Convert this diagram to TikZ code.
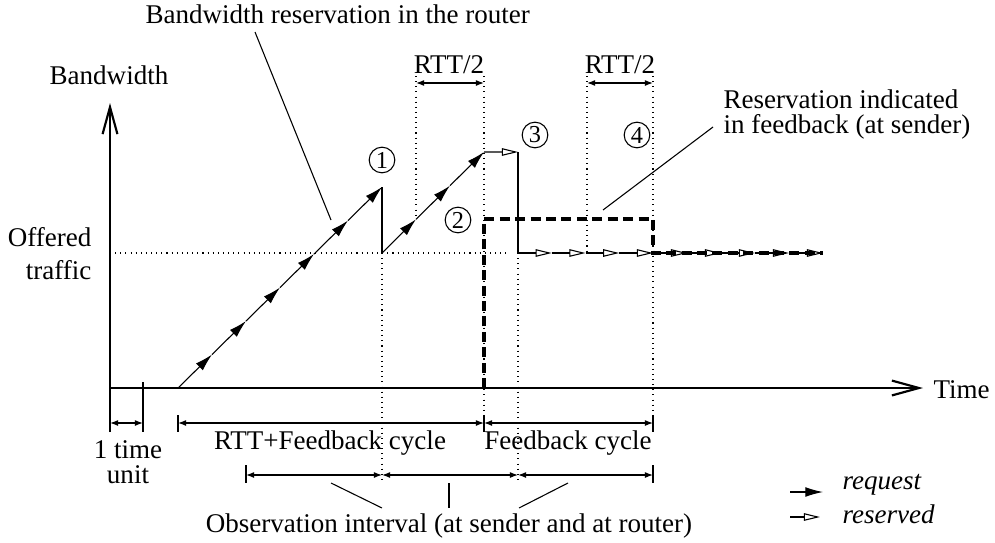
\documentclass[tikz,border=0pt]{standalone}
\usepackage{fontspec}
\setmainfont{Liberation Serif}
\usetikzlibrary{arrows.meta}

\begin{document}
\begin{tikzpicture}[x=0.37pt,y=-0.37pt,font=\fontsize{10}{9.25}\selectfont,
    every node/.style={inner sep=0pt},
    axis/.style={line width=0.8pt,-{Straight Barb[length=10pt,width=5.5pt]}},
    req/.style={line width=0.4pt,-{Latex[length=6.5pt,width=3.6pt]}},
    res/.style={line width=0.4pt,-{Triangle[open,length=6pt,width=2.8pt]}},
    fb/.style={line width=1.6pt,dash pattern=on 3.7pt off 2pt},
    dim/.style={line width=0.4pt,{Latex[length=3pt,width=2.2pt]}-{Latex[length=3pt,width=2.2pt]}},
    guide/.style={line width=0.4pt,dash pattern=on 0.4pt off 1.5pt},
    num/.style={draw,circle,line width=0.4pt,minimum size=9.5pt,
      font=\fontsize{9}{9}\selectfont}]
  \useasboundingbox (0,0) rectangle (995,542);

  % axes
  \coordinate (o) at (110,388);
  \coordinate (ytop) at (110,103);
  \coordinate (xend) at (923,388);
  \draw[line width=0.8pt] (110,432) -- (o);
  \draw[axis] (o) -- (ytop);
  \draw[axis] (o) -- (xend);
  \draw[line width=0.8pt] (143,382) -- (143,432);
  \node (bw) at (109,75) {Bandwidth};
  \node (time) [anchor=west] at (933,390) {Time};
  \node (offer) [anchor=east,align=right,font=\fontsize{10}{12.2}\selectfont]
    at (92,254) {Offered\\traffic};

  % guides
  \draw[guide] (110,253) -- (507,253);
  \draw[guide] (382,253) -- (382,483);
  \draw[guide] (416,76) -- (416,219);
  \draw[guide] (484,76) -- (484,432);
  \draw[guide] (518,253) -- (518,483);
  \draw[guide] (587,76) -- (587,253);
  \draw[guide] (653,76) -- (653,432);

  % requests
  \foreach \i in {0,...,6}
    \coordinate (r\i) at ({178+34*\i},{388-33.5*\i});
  \foreach \i [count=\j] in {0,...,5}
    \draw[req] (r\i) -- (r\j);
  \coordinate (d1) at (382,253);
  \draw[line width=0.4pt] (r6) -- (d1);
  \foreach \i in {0,...,3}
    \coordinate (s\i) at ({382+34*\i},{253-33.67*\i});
  \foreach \i [count=\j] in {0,...,2}
    \draw[req] (s\i) -- (s\j);

  % reserved
  \coordinate (h) at (518,152);
  \coordinate (d2) at (518,253);
  \draw[res] (s3) -- (h);
  \draw[line width=0.4pt] (h) -- (d2);
  \foreach \i in {0,...,4}
    \coordinate (t\i) at ({518+33.75*\i},253);
  \foreach \i [count=\j] in {0,...,3}
    \draw[res] (t\i) -- (t\j);
  \foreach \i in {0,...,5}
    \coordinate (u\i) at ({653+34*\i},253);
  \foreach \i [count=\j] in {0,...,4}
    \draw[res] (u\i) -- (u\j);
  \draw[fb] (484,388) -- (484,219) -- (653,219) -- (u0) -- (u5);

  \node[num] (n1) at (382,160) {1};
  \node[num] (n2) at (458,220) {2};
  \node[num] (n3) at (535,135) {3};
  \node[num] (n4) at (637,135) {4};

  % labels with leaders
  \node (router) [anchor=west] at (145,14) {Bandwidth reservation in the router};
  \coordinate (lr) at (331,220);
  \draw[line width=0.4pt] (255,32) -- (lr);
  \node (fbtxt) [anchor=west,align=left] at (723,114)
    {Reservation indicated\\in feedback (at sender)};
  \coordinate (lf) at (603,210);
  \draw[line width=0.4pt] (713,127) -- (lf);

  % RTT/2
  \draw[dim] (416,83) -- (484,83);
  \draw[dim] (587,83) -- (653,83);
  \node (rtt1) at (449,65) {RTT/2};
  \node (rtt2) at (620,65) {RTT/2};

  % cycles
  \draw[dim] (110,423) -- (143,423);
  \node (unit) [align=center] at (128,462) {1 time\\unit};
  \draw[line width=0.4pt] (178,415) -- (178,432);
  \draw[line width=0.4pt] (484,415) -- (484,432);
  \draw[line width=0.4pt] (653,415) -- (653,432);
  \draw[dim] (178,423) -- (484,423);
  \draw[dim] (484,423) -- (653,423);
  \node (cyc1) at (330,443) {RTT+Feedback cycle};
  \node (cyc2) at (568,443) {Feedback cycle};

  % observation intervals
  \draw[line width=0.4pt] (246,465) -- (246,483);
  \draw[line width=0.4pt] (653,465) -- (653,483);
  \draw[dim] (246,475) -- (382,475);
  \draw[dim] (382,475) -- (518,475);
  \draw[dim] (518,475) -- (653,475);
  \node (obs) at (449,526) {Observation interval (at sender and at router)};
  \draw[line width=0.4pt] (331,483) -- (382,508);
  \draw[line width=0.4pt] (449,483) -- (449,508);
  \draw[line width=0.4pt] (568,483) -- (519,508);

  % legend
  \coordinate (lq0) at (790,492);
  \coordinate (lq1) at (823,492);
  \coordinate (ls0) at (790,517);
  \coordinate (ls1) at (820,517);
  \draw[req] (lq0) -- (lq1);
  \draw[res] (ls0) -- (ls1);
  \node (lreq) [anchor=west] at (842,485) {\itshape request};
  \node (lres) [anchor=west] at (842,514) {\itshape reserved};
\end{tikzpicture}
\end{document}
